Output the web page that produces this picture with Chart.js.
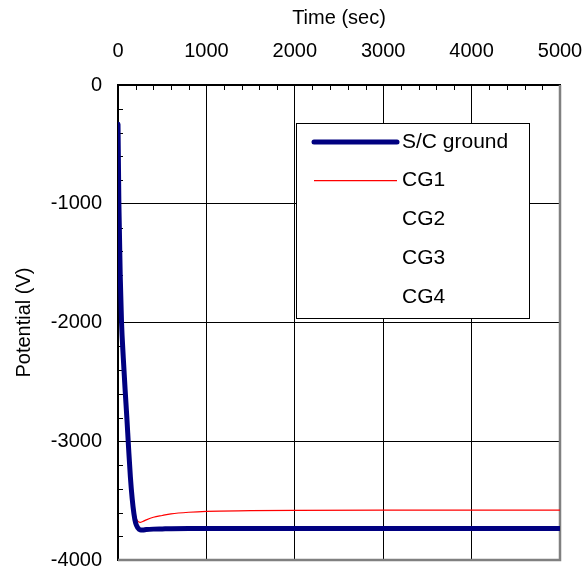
<!DOCTYPE html>
<html>
<head>
<meta charset="utf-8">
<script src="https://cdn.jsdelivr.net/npm/chart.js@4/dist/chart.umd.min.js"></script>
<style>
  html, body { margin: 0; padding: 0; background: #fff; }
  #wrap { width: 586px; height: 572px; }
</style>
</head>
<body>
<div id="wrap"><canvas id="grafico" width="586" height="572"></canvas></div>
<script>
// Datos
const tiempo = [0, 10, 25, 40, 60, 80, 100, 120, 140, 160, 180, 200, 225, 250, 280, 320, 400, 500, 600, 800, 1000, 1500, 2000, 3000, 4000, 5000];
const scGround = [-330, -1000, -1600, -2000, -2300, -2560, -2800, -3060, -3300, -3480, -3610, -3690, -3730, -3746, -3748, -3744, -3740, -3738, -3736, -3735, -3735, -3735, -3735, -3735, -3735, -3735];
const cg1 = [-330, -1000, -1600, -2000, -2290, -2540, -2780, -3040, -3280, -3450, -3570, -3640, -3675, -3683, -3676, -3662, -3640, -3625, -3612, -3598, -3590, -3585, -3582, -3580, -3580, -3580];
const cg2 = [];
const cg3 = [];
const cg4 = [];

const etiquetas = ["S/C ground", "CG1", "CG2", "CG3", "CG4"];
const ticksX = [0, 1000, 2000, 3000, 4000, 5000];
const ticksY = [0, -1000, -2000, -3000, -4000];
const menoresX = [200, 400, 600, 800, 1200, 1400, 1600, 1800, 2200, 2400, 2600, 2800, 3200, 3400, 3600, 3800, 4200, 4400, 4600, 4800];
const menoresY = [-200, -400, -600, -800, -1200, -1400, -1600, -1800, -2200, -2400, -2600, -2800, -3200, -3400, -3600, -3800];

const pares = arr => arr.map((v, i) => ({ x: tiempo[i], y: v }));

Chart.defaults.font.family = "'Liberation Sans', Arial, sans-serif";
Chart.defaults.font.size = 20;
Chart.defaults.color = "#000";

// Marco gris a la derecha/abajo y marcas menores hacia adentro
const marcoPlugin = {
  id: "marco",
  beforeDatasetsDraw(chart) {
    const { ctx, chartArea: a, scales } = chart;
    ctx.save();
    ctx.strokeStyle = "#000";
    ctx.lineWidth = 1;
    menoresX.forEach(v => {
      const px = Math.round(scales.x.getPixelForValue(v)) + 0.5;
      ctx.beginPath();
      ctx.moveTo(px, a.top);
      ctx.lineTo(px, a.top + 5);
      ctx.stroke();
    });
    menoresY.forEach(v => {
      const py = Math.round(scales.y.getPixelForValue(v)) + 0.5;
      ctx.beginPath();
      ctx.moveTo(a.left, py);
      ctx.lineTo(a.left + 5, py);
      ctx.stroke();
    });
    ctx.strokeStyle = "#808080";
    ctx.lineWidth = 2.5;
    ctx.beginPath();
    ctx.moveTo(a.left, a.bottom);
    ctx.lineTo(a.right, a.bottom);
    ctx.lineTo(a.right, a.top);
    ctx.stroke();
    ctx.restore();
  }
};

// Leyenda dentro del área del gráfico
const leyendaPlugin = {
  id: "leyenda",
  afterDraw(chart) {
    const { ctx, chartArea: a } = chart;
    const x0 = a.left + 178, y0 = a.top + 38, w = 233, h = 195;
    ctx.save();
    ctx.fillStyle = "#fff";
    ctx.fillRect(x0, y0, w, h);
    ctx.strokeStyle = "#000";
    ctx.lineWidth = 1;
    ctx.strokeRect(x0 + 0.5, y0 + 0.5, w, h);
    ctx.font = "21px 'Liberation Sans', Arial, sans-serif";
    ctx.textBaseline = "middle";
    chart.data.datasets.forEach((ds, i) => {
      const cy = y0 + 19 + i * 38.7;
      ctx.strokeStyle = ds.borderColor;
      ctx.lineWidth = ds.borderWidth;
      ctx.lineCap = i === 0 ? "round" : "butt";
      ctx.beginPath();
      ctx.moveTo(x0 + 18, cy);
      ctx.lineTo(x0 + 101, cy);
      ctx.stroke();
      ctx.fillStyle = "#000";
      ctx.fillText(ds.label, x0 + 106, cy);
    });
    ctx.restore();
  }
};

new Chart(document.getElementById("grafico").getContext("2d"), {
  type: "line",
  data: {
    datasets: [
      { label: etiquetas[0], data: pares(scGround), borderColor: "#000080", borderWidth: 5 },
      { label: etiquetas[1], data: pares(cg1), borderColor: "#ff0000", borderWidth: 1.2 },
      { label: etiquetas[2], data: cg2, borderColor: "rgba(0,0,0,0)", borderWidth: 1 },
      { label: etiquetas[3], data: cg3, borderColor: "rgba(0,0,0,0)", borderWidth: 1 },
      { label: etiquetas[4], data: cg4, borderColor: "rgba(0,0,0,0)", borderWidth: 1 }
    ]
  },
  options: {
    responsive: false,
    animation: false,
    layout: { padding: 0 },
    elements: {
      point: { radius: 0 },
      line: { cubicInterpolationMode: "monotone", borderCapStyle: "round", borderJoinStyle: "round" }
    },
    plugins: { legend: { display: false }, tooltip: { enabled: false } },
    scales: {
      x: {
        type: "linear",
        position: "top",
        min: 0,
        max: 5000,
        afterBuildTicks: s => { s.ticks = ticksX.map(v => ({ value: v })); },
        afterFit: s => { s.height = 85; s.paddingLeft = 0; s.paddingRight = 26; },
        ticks: { padding: 22, maxRotation: 0, callback: v => String(v) },
        grid: {
          drawTicks: false,
          color: c => (c.tick.value === 0 || c.tick.value === 5000) ? "rgba(0,0,0,0)" : "#000",
          lineWidth: 1
        },
        border: { display: true, color: "#000", width: 2 },
        title: { display: true, text: "Time (sec)", padding: { top: 6, bottom: 0 } }
      },
      y: {
        type: "linear",
        min: -4000,
        max: 0,
        afterBuildTicks: s => { s.ticks = ticksY.map(v => ({ value: v })); },
        afterFit: s => { s.width = 118; s.paddingTop = 0; s.paddingBottom = 12; },
        ticks: { padding: 16, callback: v => String(v) },
        grid: {
          drawTicks: false,
          color: c => (c.tick.value === 0 || c.tick.value === -4000) ? "rgba(0,0,0,0)" : "#000",
          lineWidth: 1
        },
        border: { display: true, color: "#000", width: 2 },
        title: { display: true, text: "Potential (V)", padding: { top: 12, bottom: 0 } }
      }
    }
  },
  plugins: [marcoPlugin, leyendaPlugin]
});
</script>
</body>
</html>
